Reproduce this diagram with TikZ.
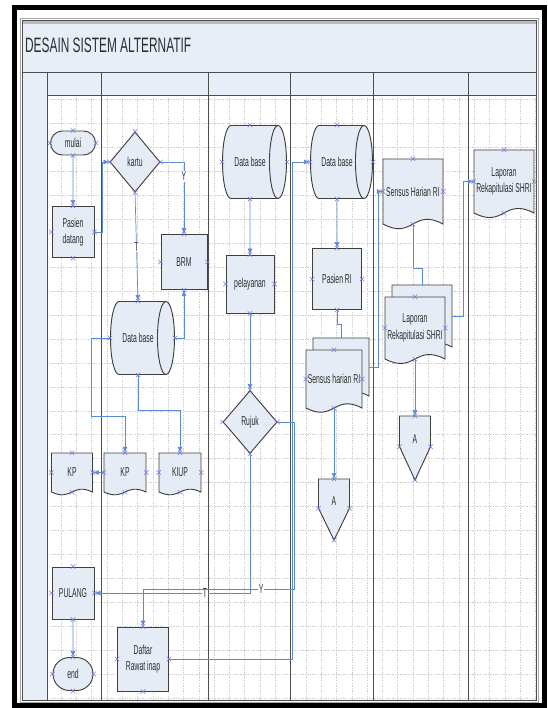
\documentclass[tikz,border=0pt]{standalone}
\usepackage{fontspec}
\setmainfont{Liberation Sans}[FakeStretch=0.53]
\newfontfamily\titlefont{Liberation Sans}[FakeStretch=0.57]
\usepackage{tikz}
\usetikzlibrary{arrows.meta, shapes.geometric, shapes.misc, calc, positioning}
\definecolor{Paper}   {HTML}{E8EEF8}
\definecolor{BoxFill} {HTML}{E6ECF5}
\definecolor{BoxEdge} {HTML}{3F3F3F}
\definecolor{Flow}    {HTML}{5B8BD4}
\definecolor{Mark}    {HTML}{7A78E0}
\definecolor{GridGrey}{HTML}{CFCFCF}
\definecolor{LaneGrey}{HTML}{4D4D4D}
\definecolor{Ink}     {HTML}{2E2E2E}

\newcommand{\px}{0.3mm}
% document: name, centre x, top y, width, body height, text
\newcommand{\docnode}[6]{%
  \filldraw[boxline] (#2-#4/2,#3) -- (#2+#4/2,#3) -- (#2+#4/2,#3+#5)
    .. controls (#2,#3+#5-#5/4) and (#2,#3+#5+#5/4) .. (#2-#4/2,#3+#5) -- cycle;
  \node[doctext, minimum width={#4*\px}, minimum height={#5*\px}] (#1) at (#2,#3+#5/2) {#6};}
% stacked documents
\newcommand{\multidoc}[6]{%
  \docnode{#1-back}{#2+7}{#3-12}{#4}{#5}{}%
  \docnode{#1}{#2}{#3}{#4}{#5}{#6}}
% off-page connector
\newcommand{\offpage}[6]{%
  \filldraw[boxline] (#2-#4/2,#3) -- (#2+#4/2,#3) -- (#2+#4/2,#3+0.48*#5)
    -- (#2,#3+#5) -- (#2-#4/2,#3+0.48*#5) -- cycle;
  \node[doctext, minimum width={#4*\px}, minimum height={0.72*#5*\px}] (#1) at (#2,#3+0.36*#5) {#6};
  \coordinate (#1-top) at (#2,#3);
  \coordinate (#1-l) at (#2-#4/2,#3+0.48*#5);
  \coordinate (#1-r) at (#2+#4/2,#3+0.48*#5);
  \coordinate (#1-tip) at (#2,#3+#5);}

\begin{document}
\begin{tikzpicture}[x=0.3mm, y=-0.3mm, font=\fontsize{11}{14}\selectfont,
    boxline/.style={draw=BoxEdge, fill=BoxFill, line width=0.8pt},
    doctext/.style={inner sep=0pt, align=center, text=Ink},
    proc/.style={boxline, inner sep=0pt, align=center, text=Ink},
    term/.style={proc, rounded rectangle},
    decide/.style={proc, diamond},
    store/.style={proc, cylinder, aspect=1.8},
    flow/.style={draw=Flow, line width=0.6pt, -{Latex[length=1.8mm, width=1.5mm]}},
    link/.style={draw=Flow, line width=0.6pt},
    lbl/.style={fill=white, inner sep=0.6pt, text=Ink},
    cpt/.style={draw=Mark, cross out, minimum size=1.2mm, inner sep=0pt, line width=0.45pt},
    gridline/.style={draw=GridGrey, line width=0.3pt, dash pattern=on 1.2pt off 1pt},
    laneline/.style={draw=LaneGrey, line width=0.7pt}]
  \useasboundingbox (0,0) rectangle (547,708);
  % frame, title and swimlanes
  \draw[line width=1.5mm] (14.5,7.5) rectangle (544.5,705.5);
  \fill[Paper] (22,20) rectangle (536,700);
  \fill[white] (47,95) rectangle (536,700);
  \fill[gray!55] (22,20) rectangle (536,24);
  \foreach \i in {0,...,31} \draw[gridline] ({61+15.3*\i},95) -- ++(0,605);
  \foreach \i in {0,...,25} \draw[gridline] (47,99.35+23.95*\i) -- (536,99.35+23.95*\i);
  \draw[gray!70, line width=0.5pt] (20,18) rectangle (538,702);
  \draw[laneline] (22,20) rectangle (536,700);
  \draw[laneline] (22,72) -- (536,72) (47,95) -- (536,95);
  \foreach \lx in {47,101,208,290,373,468} \draw[laneline] (\lx,72) -- (\lx,700);
  \node[anchor=west, font=\titlefont\fontsize{17.8}{19}\selectfont, text=Ink] (judul) at (21,45)
    {DESAIN SISTEM ALTERNATIF};

  % lane 1
  \node[term, minimum width={45*\px}, minimum height={24*\px}] (mulai) at (73,143) {mulai};
  \node[proc, minimum width={42*\px}, minimum height={51*\px}] (pasien) at (73,232) {Pasien\\datang};
  \docnode{kp1}{72}{453}{41}{39}{KP}
  \node[proc, minimum width={42*\px}, minimum height={52*\px}] (pulang) at (73,593) {PULANG};
  \node[term, minimum width={40*\px}, minimum height={33*\px}] (selesai) at (73,674) {end};
  % lane 2
  \node[decide, minimum width={50*\px}, minimum height={60*\px}] (kartu) at (135,162) {kartu};
  \node[proc, minimum width={46*\px}, minimum height={55*\px}] (brm) at (184,262) {BRM};
  \node[store, minimum height={64*\px}, minimum width={73*\px}] (db1) at (138,338) {Data base};
  \docnode{kp2}{125}{453}{42}{39}{KP}
  \docnode{kiup}{180}{453}{42}{39}{KIUP}
  \node[proc, minimum width={51*\px}, minimum height={64*\px}] (daftar) at (143,659) {Daftar\\Rawat inap};
  % lane 3
  \node[store, minimum height={64*\px}, minimum width={73*\px}] (db3) at (250,162) {Data base};
  \node[proc, minimum width={48*\px}, minimum height={58*\px}] (pelayanan) at (250,284) {pelayanan};
  \node[decide, minimum width={54*\px}, minimum height={63*\px}] (rujuk) at (250,422) {Rujuk};
  % lane 4
  \node[store, minimum height={62*\px}, minimum width={73*\px}] (db4) at (337,162) {Data base};
  \node[proc, minimum width={49*\px}, minimum height={61*\px}] (pasienri) at (337,279) {Pasien RI};
  \multidoc{sensus4}{334}{350}{56}{58}{Sensus harian RI}
  \offpage{a4}{334}{479}{31}{61}{A}
  % lane 5
  \docnode{sensus5}{413}{159}{60}{65}{Sensus Harian RI}
  \multidoc{lap5}{415}{297}{60}{62}{Laporan\\Rekapitulasi SHRI}
  \offpage{a5}{415}{416}{31}{64}{A}
  % lane 6
  \docnode{lap6}{504}{150}{60}{63}{Laporan\\Rekapitulasi SHRI}

  % connectors
  \draw[flow] (mulai) -- (pasien);
  \draw[flow] (pasien.east) -- ++(8,0) |- (kartu.west);
  \draw[flow] (kartu.east) -| node[lbl, pos=0.6] {Y} (brm.north);
  \draw[flow] (kartu.south) -- node[lbl] {T} (db1.north);
  \draw[flow] (db1.east) -| (brm.south);
  \draw[flow] (db1.west) -- ++(-19,0) |- ($(kp2.north)+(0,-36)$) -- (kp2.north);
  \draw[flow] (db1.south) -- ++(0,35) -| (kiup.north);
  \draw[flow] (kp2.west) -- (kp1.east);
  \draw[flow] (db3) -- (pelayanan);
  \draw[flow] (pelayanan) -- (rujuk);
  \draw[flow] (rujuk.south) |- node[lbl, pos=0.645] {T} (pulang.east);
  \draw[flow] (rujuk.east) -- ++(17,0) |- node[lbl, pos=0.61] {Y} ($(daftar.north)+(0,-37)$) -- (daftar.north);
  \draw[flow] (pulang) -- (selesai);
  \draw[flow] (daftar.east) -- ++(123,0) |- (db4.west);
  \draw[flow] (db4) -- (pasienri);
  \draw[link] (pasienri.south) -- ++(0,14) -| (sensus4-back.north);
  \draw[flow] (sensus4.south) -- (a4-top);
  \draw[flow] (sensus4-back.east) -- ++(9,0) |- (sensus5.west);
  \draw[link] (sensus5.south) -- ++(0,44) -| (lap5-back.north);
  \draw[flow] (lap5.south) -- (a5-top);
  \draw[flow] (lap5-back.east) -- ++(11,0) |- (lap6.west);

  % connection points
  \foreach \n in {mulai,pasien,kp1,pulang,selesai,kartu,brm,db1,kp2,kiup,daftar,
                  db3,pelayanan,rujuk,db4,pasienri,sensus4,sensus5,lap5,lap6}
    \foreach \a in {north,south,east,west} \node[cpt] at (\n.\a) {};
  \foreach \n in {a4,a5}
    \foreach \a in {top,l,r,tip} \node[cpt] at (\n-\a) {};
\end{tikzpicture}
\end{document}
